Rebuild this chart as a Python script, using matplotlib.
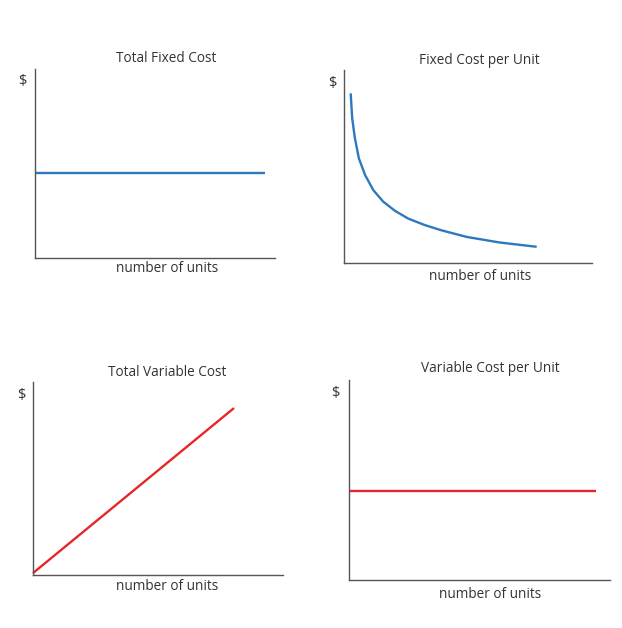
import matplotlib
matplotlib.use("Agg")
import matplotlib.pyplot as plt

plt.rcParams['font.family'] = ['Open Sans', 'DejaVu Sans']

# Data (arbitrary units 0-100 on both axes)
titles = ["Total Fixed Cost", "Fixed Cost per Unit", "Total Variable Cost", "Variable Cost per Unit"]
xlabel = "number of units"
ylabel = "$"

tfc_x = [0, 96]
tfc_y = [45, 45]

fcu_x = [2.7, 3.3, 4.4, 6.0, 8.5, 11.8, 15.8, 20.6, 25.9, 32.7, 39.4, 49.5, 62.9, 77.7]
fcu_y = [87.9, 75.0, 64.6, 54.2, 45.6, 37.8, 31.8, 27.0, 23.0, 19.6, 16.9, 13.5, 10.6, 8.4]

tvc_x = [0, 80.4]
tvc_y = [1, 86.5]

vcu_x = [0, 94.6]
vcu_y = [44.5, 44.5]

BLUE = "#2E78BE"
RED = "#E8262A"
SPINE = "#555555"
TEXT = "#333333"

W, H = 622, 628
fig = plt.figure(figsize=(W / 100, H / 100), dpi=100)

# panel boxes in pixels: left, right, top, bottom
boxes = [
    (35, 275, 69, 258),
    (344, 592, 70, 263),
    (33, 283, 382, 575),
    (349, 610, 380, 580),
]
series = [(tfc_x, tfc_y, BLUE), (fcu_x, fcu_y, BLUE), (tvc_x, tvc_y, RED), (vcu_x, vcu_y, RED)]
title_y = [59, 60, 373, 369]
dollar_pos = [(22, 81), (332, 83), (21, 395), (335, 393)]
xlab_y = [269, 276, 587, 595]
xlab_x = [167, 480, 167, 490]
title_x = [166, 479, 167, 490]

for i, (l, r, t, b) in enumerate(boxes):
    ax = fig.add_axes([l / W, 1 - b / H, (r - l) / W, (b - t) / H])
    xs, ys, c = series[i]
    ax.plot(xs, ys, color=c, lw=1.7, solid_capstyle='butt', solid_joinstyle='round', clip_on=False)
    ax.set_xlim(0, 100)
    ax.set_ylim(0, 100)
    for s in ("top", "right"):
        ax.spines[s].set_visible(False)
    for s in ("left", "bottom"):
        ax.spines[s].set_color(SPINE)
        ax.spines[s].set_linewidth(1.0)
    ax.set_xticks([])
    ax.set_yticks([])
    fig.text(title_x[i] / W, 1 - title_y[i] / H, titles[i], ha='center', va='center',
             fontsize=9.8, color=TEXT)
    fig.text(xlab_x[i] / W, 1 - xlab_y[i] / H, xlabel, ha='center', va='center',
             fontsize=9.8, color=TEXT)
    dx, dy = dollar_pos[i]
    fig.text(dx / W, 1 - dy / H, ylabel, ha='center', va='center', fontsize=10.5, color=TEXT)

fig.savefig("out.png", dpi=100, facecolor="white")
